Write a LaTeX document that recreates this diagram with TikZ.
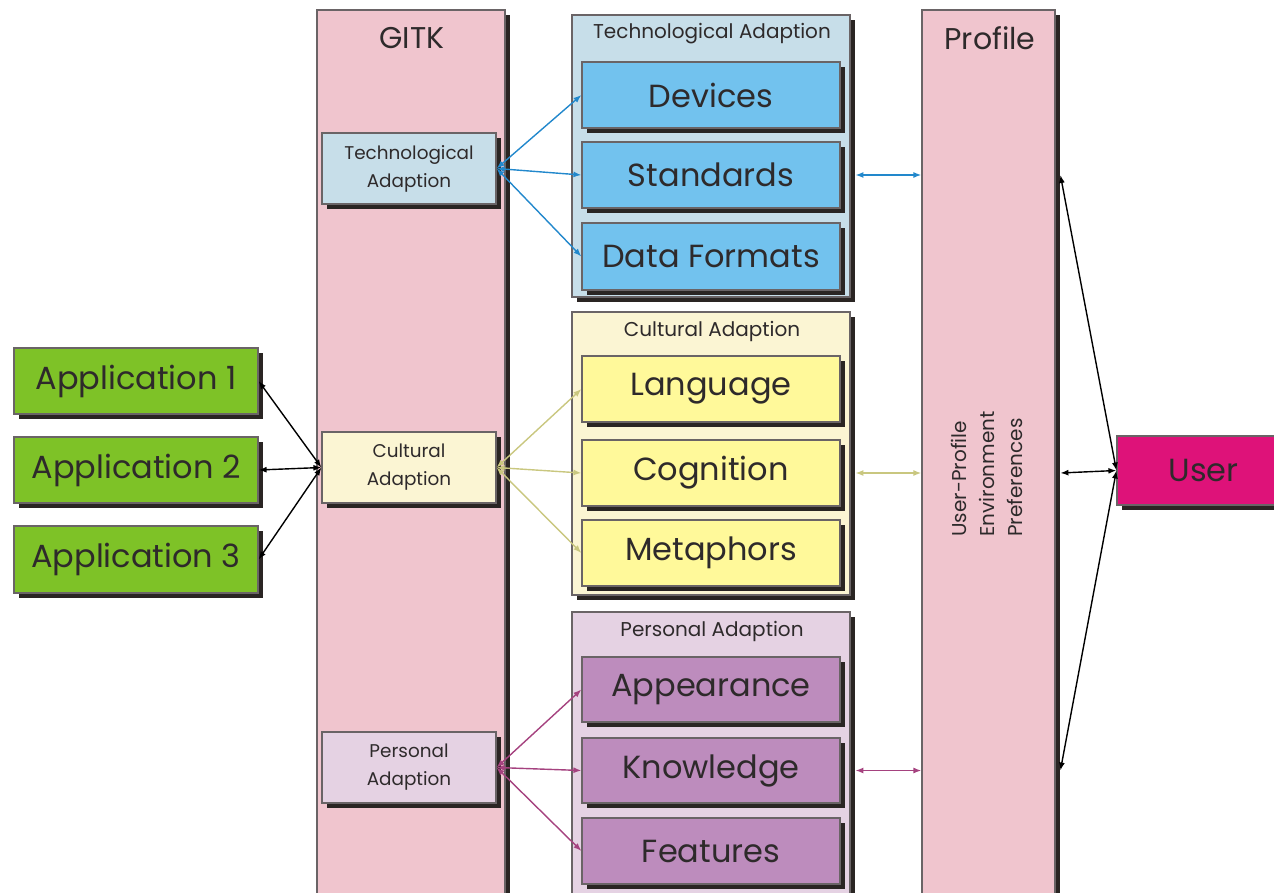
\documentclass[tikz,border=0pt]{standalone}
\usepackage{fontspec}
\setmainfont{Poppins}
\usetikzlibrary{arrows.meta,shadows}

\definecolor{colpink}{HTML}{F0C5CE}
\definecolor{techlight}{HTML}{C7DEE9}
\definecolor{techbox}{HTML}{72C2EE}
\definecolor{techline}{HTML}{2288CC}
\definecolor{cultlight}{HTML}{FBF5D3}
\definecolor{cultbox}{HTML}{FFF99A}
\definecolor{cultline}{HTML}{C9C77F}
\definecolor{perslight}{HTML}{E5D2E3}
\definecolor{persbox}{HTML}{BD8CBD}
\definecolor{persline}{HTML}{A5427F}
\definecolor{usercol}{HTML}{DE1279}
\definecolor{appcol}{HTML}{7EC227}
\definecolor{shadowcol}{HTML}{2A2523}
\definecolor{edgecol}{HTML}{6A6466}
\definecolor{textcol}{HTML}{2E2A2B}

% box from corner (x1,y1) to (x2,y2), coordinates in pixels
\newcommand\placebox[7]{%
  \pgfmathsetmacro\pbcx{(#3+#5)/2}%
  \pgfmathsetmacro\pbcy{(#4+#6)/2}%
  \pgfmathsetmacro\pbw{(#5-#3)/2}%
  \pgfmathsetmacro\pbh{(#6-#4)/2}%
  \node[#2, minimum width=\pbw pt, minimum height=\pbh pt] (#1) at (\pbcx,\pbcy) {#7};}

\begin{document}
\begin{tikzpicture}[x=0.5pt,y=-0.5pt,
  every node/.style={text=textcol, inner sep=0pt},
  solid/.style={draw=edgecol, line width=0.6pt,
    drop shadow={shadow xshift=2.4pt, shadow yshift=-2.4pt, fill=shadowcol, opacity=1}},
  column/.style={solid, fill=colpink},
  bigtext/.style={font=\fontsize{16}{19}\selectfont},
  smalltext/.style={font=\fontsize{9.2}{14}\selectfont, align=center},
  titletext/.style={font=\fontsize{15}{18}\selectfont},
  grouptext/.style={font=\fontsize{10}{12}\selectfont},
  link/.style={line width=0.7pt, {Latex[length=4pt,width=3pt]}-{Latex[length=4pt,width=3pt]}},
]
\useasboundingbox (0,0) rectangle (1274,893);

% columns
\placebox{gitk}{column}{317}{10}{505}{905}{}
\placebox{profile}{column}{922}{10}{1055}{905}{}
\node[titletext] (gitktitle) at (412,38) {GITK};
\node[titletext] (proftitle) at (990,38) {Profile};
\node[font=\fontsize{10}{14}\selectfont, rotate=90, anchor=west, align=left] (proftext) at (987,537)
  {User-Profile\\Environment\\Preferences};

% adaption entries inside GITK
\placebox{techsmall}{solid, fill=techlight, smalltext}{322}{133}{496}{204}{Technological\\Adaption}
\placebox{cultsmall}{solid, fill=cultlight, smalltext}{322}{432}{496}{503}{Cultural\\Adaption}
\placebox{perssmall}{solid, fill=perslight, smalltext}{322}{732}{496}{803}{Personal\\Adaption}

% technological group
\placebox{techgroup}{solid, fill=techlight}{572}{15}{850}{297}{}
\node[grouptext] (techtitle) at (712,34) {Technological Adaption};
\placebox{devices}{solid, fill=techbox, bigtext}{582}{62}{840}{128}{Devices}
\placebox{standards}{solid, fill=techbox, bigtext}{582}{142}{840}{208}{Standards}
\placebox{formats}{solid, fill=techbox, bigtext}{582}{223}{840}{290}{Data Formats}

% cultural group
\placebox{cultgroup}{solid, fill=cultlight}{572}{312}{850}{595}{}
\node[grouptext] (culttitle) at (712,331) {Cultural Adaption};
\placebox{language}{solid, fill=cultbox, bigtext}{582}{356}{840}{422}{Language}
\placebox{cognition}{solid, fill=cultbox, bigtext}{582}{440}{840}{506}{Cognition}
\placebox{metaphors}{solid, fill=cultbox, bigtext}{582}{520}{840}{586}{Metaphors}

% personal group
\placebox{persgroup}{solid, fill=perslight}{572}{612}{850}{895}{}
\node[grouptext] (perstitle) at (712,631) {Personal Adaption};
\placebox{appearance}{solid, fill=persbox, bigtext}{582}{657}{840}{722}{Appearance}
\placebox{knowledge}{solid, fill=persbox, bigtext}{582}{738}{840}{803}{Knowledge}
\placebox{features}{solid, fill=persbox, bigtext}{582}{818}{840}{884}{Features}

% applications and user
\placebox{app1}{solid, fill=appcol, bigtext}{14}{348}{258}{414}{Application 1}
\placebox{app2}{solid, fill=appcol, bigtext}{14}{437}{258}{503}{Application 2}
\placebox{app3}{solid, fill=appcol, bigtext}{14}{526}{258}{593}{Application 3}
\placebox{user}{solid, fill=usercol, bigtext}{1117}{436}{1290}{505}{User}

% GITK entries to their adaption boxes
\foreach \t in {devices,standards,formats}
  \draw[link, techline] (techsmall.east) -- (\t.west);
\foreach \t in {language,cognition,metaphors}
  \draw[link, cultline] (cultsmall.east) -- (\t.west);
\foreach \t in {appearance,knowledge,features}
  \draw[link, persline] (perssmall.east) -- (\t.west);

% adaption groups to profile
\draw[link, techline] ([xshift=2.4pt]techgroup.east |- standards.east) -- (profile.west |- standards.east);
\draw[link, cultline] ([xshift=2.4pt]cultgroup.east |- cognition.east) -- (profile.west |- cognition.east);
\draw[link, persline] ([xshift=2.4pt]persgroup.east |- knowledge.east) -- (profile.west |- knowledge.east);

% profile to user
\foreach \t in {standards,cognition,knowledge}
  \draw[link, black] ([xshift=2.4pt]profile.east |- \t.east) -- (user.west);

% applications to cultural adaption
\foreach \a in {app1,app2,app3}
  \draw[link, black] (\a.east) -- (cultsmall.west);
\end{tikzpicture}
\end{document}
